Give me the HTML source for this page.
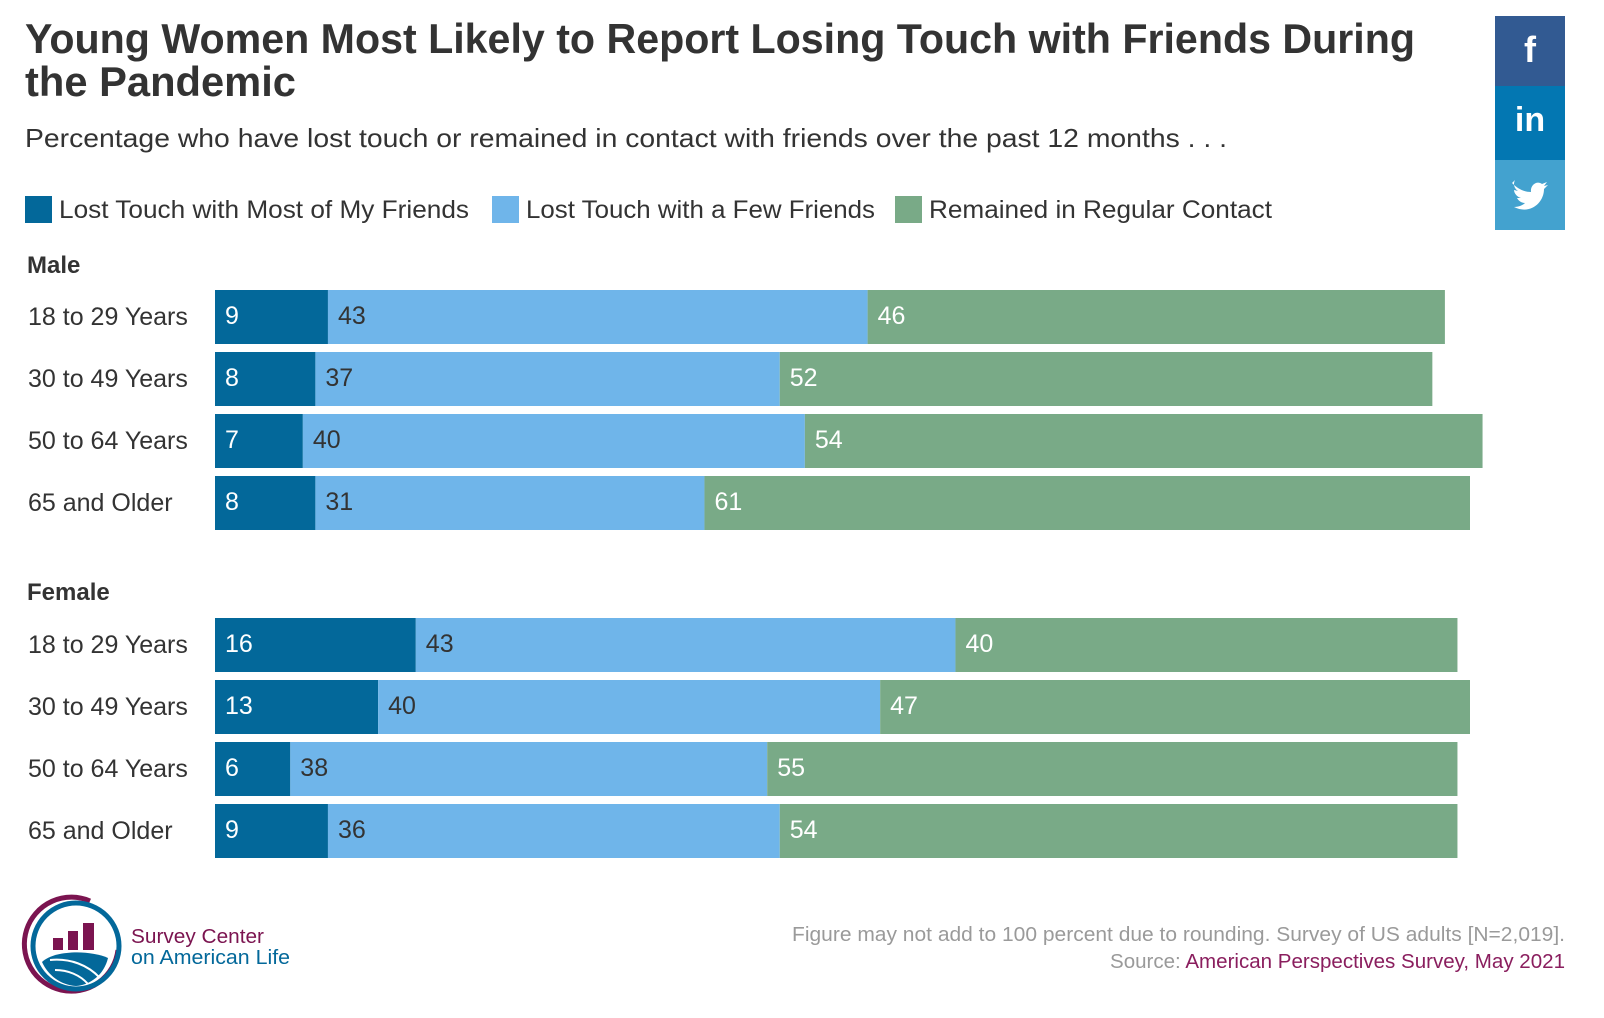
<!DOCTYPE html>
<html><head><meta charset="utf-8">
<style>
html,body{margin:0;padding:0;background:#fff;}
svg{display:block;font-family:"Liberation Sans",sans-serif;}
</style></head>
<body>
<svg id="chart" width="1604" height="1018" viewBox="0 0 1604 1018" xmlns="http://www.w3.org/2000/svg">
  <text x="25" y="53" font-size="42" font-weight="bold" fill="#333" textLength="1390" lengthAdjust="spacingAndGlyphs">Young Women Most Likely to Report Losing Touch with Friends During</text>
  <text x="25" y="96" font-size="42" font-weight="bold" fill="#333" textLength="271" lengthAdjust="spacingAndGlyphs">the Pandemic</text>
  <text x="25" y="147" font-size="26" fill="#333" textLength="1202" lengthAdjust="spacingAndGlyphs">Percentage who have lost touch or remained in contact with friends over the past 12 months . . .</text>

  <g>
    <rect x="25" y="196" width="27" height="27" fill="#03689a"/>
    <text x="59" y="218" font-size="25" fill="#333" textLength="410" lengthAdjust="spacingAndGlyphs">Lost Touch with Most of My Friends</text>
    <rect x="492" y="196" width="27" height="27" fill="#6fb5ea"/>
    <text x="526" y="218" font-size="25" fill="#333" textLength="349" lengthAdjust="spacingAndGlyphs">Lost Touch with a Few Friends</text>
    <rect x="895" y="196" width="27" height="27" fill="#79aa87"/>
    <text x="929" y="218" font-size="25" fill="#333" textLength="343" lengthAdjust="spacingAndGlyphs">Remained in Regular Contact</text>
  </g>

  <text x="27" y="273" font-size="24" font-weight="bold" fill="#333">Male</text>
  <text x="27" y="600" font-size="24" font-weight="bold" fill="#333">Female</text>

  <g id="bars"></g>

  <g>
    <rect x="1495" y="16" width="70" height="70" fill="#325a92"/>
    <text x="1530" y="62" font-size="36" font-weight="bold" fill="#fff" text-anchor="middle">f</text>
    <rect x="1495" y="86" width="70" height="74" fill="#0377b2"/>
    <text x="1530" y="131" font-size="34" font-weight="bold" fill="#fff" text-anchor="middle">in</text>
    <rect x="1495" y="160" width="70" height="70" fill="#43a2cf"/>
    <path d="M1512 183 c6 6 12 9 19 9 c-1-7 6-12 11-8 l5-2 l-3 4 l4-1 l-4 4 c0 14-14 26-30 18 c5 0 9-2 11-4 c-4 0-7-3-8-5 l4 0 c-4-1-7-5-7-8 l4 1 c-4-3-5-7-3-11z" fill="#fff"/>
  </g>

  <g>
    <path d="M90 901 A47 47 0 1 0 118 950" fill="none" stroke="#7b1450" stroke-width="5"/>
    <circle cx="76" cy="946" r="43" fill="none" stroke="#03689a" stroke-width="5"/>
    <rect x="53" y="938" width="10" height="12" fill="#7b1450"/>
    <rect x="68" y="931" width="10" height="19" fill="#7b1450"/>
    <rect x="83" y="923" width="11" height="27" fill="#7b1450"/>
    <path d="M42 962 C55 950 90 950 108 958 C104 975 90 985 76 986 C60 985 48 975 42 962Z" fill="#03689a"/>
    <path d="M50 960 C70 958 88 965 100 978 M55 970 C68 970 80 975 88 984" fill="none" stroke="#fff" stroke-width="2"/>
    <text x="131" y="943" font-size="20" fill="#7b1450" textLength="133" lengthAdjust="spacingAndGlyphs">Survey Center</text>
    <text x="131" y="964" font-size="20" fill="#03689a" textLength="159" lengthAdjust="spacingAndGlyphs">on American Life</text>
  </g>

  <text x="1565" y="941" font-size="20" fill="#9a9a9a" text-anchor="end" textLength="773" lengthAdjust="spacingAndGlyphs">Figure may not add to 100 percent due to rounding. Survey of US adults [N=2,019].</text>
  <text x="1565" y="968" font-size="20" fill="#9a9a9a" text-anchor="end" textLength="455" lengthAdjust="spacingAndGlyphs">Source: <tspan fill="#8a1e5e">American Perspectives Survey, May 2021</tspan></text>
</svg>
<script>
const categories = ["18 to 29 Years","30 to 49 Years","50 to 64 Years","65 and Older","18 to 29 Years","30 to 49 Years","50 to 64 Years","65 and Older"];
const groups = ["male","male","male","male","female","female","female","female"];
const lostMost = [9,8,7,8,16,13,6,9];
const lostFew = [43,37,40,31,43,40,38,36];
const regular = [46,52,54,61,40,47,55,54];

const NS = "http://www.w3.org/2000/svg";
const x0 = 215, unit = 12.55;
function xScale(v){ return x0 + v*unit; }
function rowY(i){ return i < 4 ? 290 + i*62 : 618 + (i-4)*62; }
const barH = 54;
const g = document.getElementById('bars');
const series = [
  {vals: lostMost, color: "#03689a", text: "#fff", key: "most"},
  {vals: lostFew, color: "#6fb5ea", text: "#333", key: "few"},
  {vals: regular, color: "#79aa87", text: "#fff", key: "regular"}
];
categories.forEach((c, i) => {
  const y = rowY(i);
  const lab = document.createElementNS(NS, 'text');
  lab.setAttribute('x', 28);
  lab.setAttribute('y', y + 35);
  lab.setAttribute('font-size', 25);
  lab.setAttribute('fill', '#333');
  lab.textContent = c;
  
  
  g.appendChild(lab);
  let cum = 0;
  series.forEach(s => {
    const v = s.vals[i];
    const r = document.createElementNS(NS, 'rect');
    r.setAttribute('x', xScale(cum));
    r.setAttribute('y', y);
    r.setAttribute('width', xScale(cum + v) - xScale(cum));
    r.setAttribute('height', barH);
    r.setAttribute('fill', s.color);
    
    
    g.appendChild(r);
    const t = document.createElementNS(NS, 'text');
    t.setAttribute('x', xScale(cum) + 10);
    t.setAttribute('y', y + 34);
    t.setAttribute('font-size', 25);
    t.setAttribute('fill', s.text);
    t.textContent = v;
    
    
    g.appendChild(t);
    cum += v;
  });
});
</script>
</body></html>
